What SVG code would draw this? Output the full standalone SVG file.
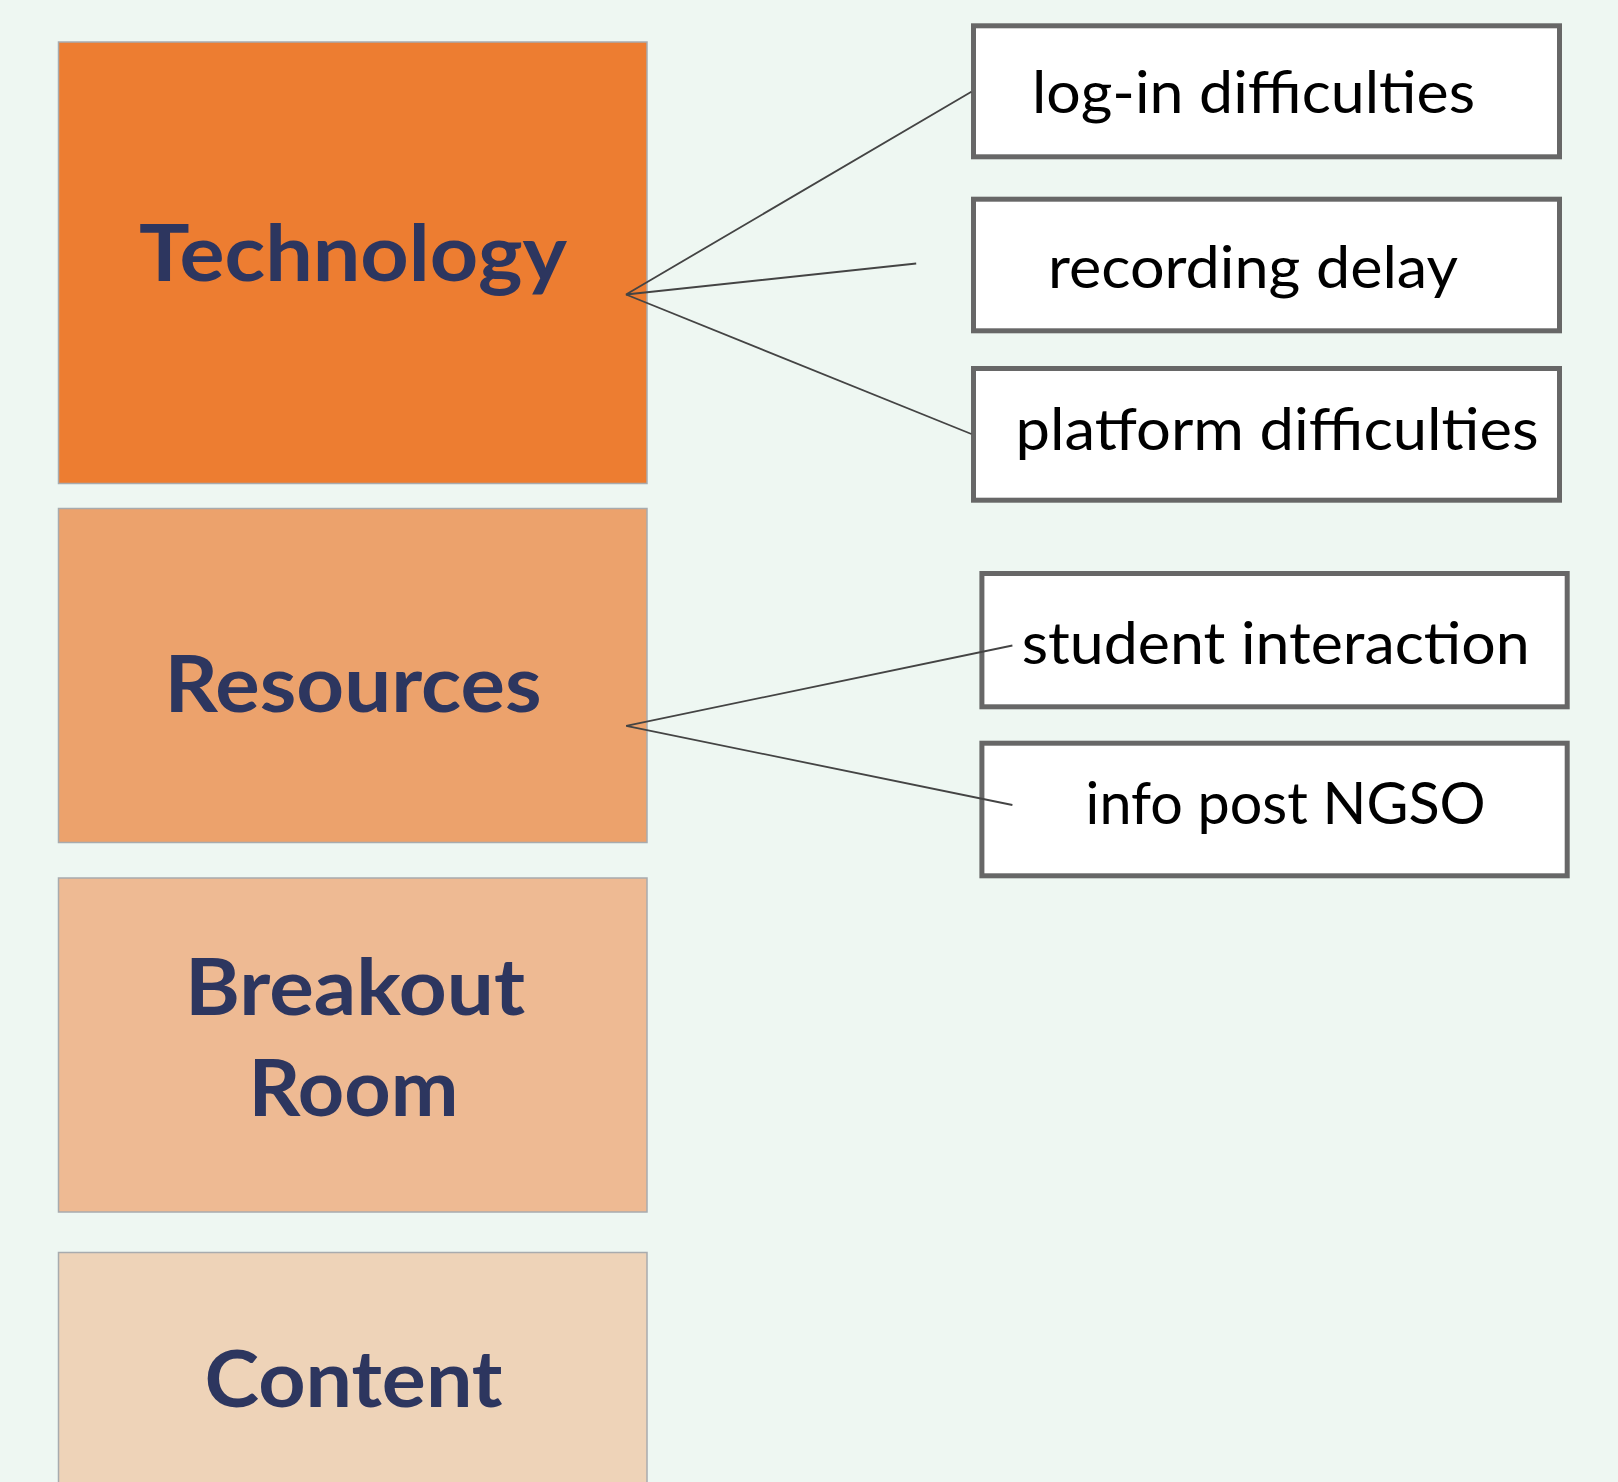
<svg xmlns="http://www.w3.org/2000/svg" width="1618" height="1482" viewBox="0 0 1618 1482">
<style>
.cat{stroke:#A8ABAE;stroke-width:1.5}
.lbl{font-family:Lato,"Open Sans","Liberation Sans",sans-serif;font-weight:700;font-size:78px;fill:#2D365F;text-anchor:middle}
.box{fill:#FFFFFF;stroke:#676767;stroke-width:5}
.txt{font-family:Lato,"Open Sans","Liberation Sans",sans-serif;font-size:58px;fill:#000000}
.conn{stroke:#444444;stroke-width:1.8;fill:none}
</style>
<rect width="1618" height="1482" fill="#EEF7F2"/>
<g id="technology">
<rect class="cat" x="58.5" y="42" width="588.5" height="441.5" fill="#ED7D31"/>
<text class="lbl" x="353" y="281" textLength="428" lengthAdjust="spacingAndGlyphs">Technology</text>
</g>
<g id="resources">
<rect class="cat" x="58.5" y="508.5" width="588.5" height="334" fill="#ECA26C"/>
<text class="lbl" x="353" y="711.5" textLength="377" lengthAdjust="spacingAndGlyphs">Resources</text>
</g>
<g id="breakout-room">
<rect class="cat" x="58.5" y="878" width="588.5" height="334" fill="#EEBA93"/>
<text class="lbl" x="355" y="1014.5" textLength="340" lengthAdjust="spacingAndGlyphs">Breakout</text>
<text class="lbl" x="353.5" y="1116" textLength="210" lengthAdjust="spacingAndGlyphs">Room</text>
</g>
<g id="content">
<rect class="cat" x="58.5" y="1252.5" width="588.5" height="260" fill="#EED3B8"/>
<text class="lbl" x="353.5" y="1406.5" textLength="298" lengthAdjust="spacingAndGlyphs">Content</text>
</g>
<g id="login-difficulties">
<rect class="box" x="973.5" y="25.8" width="586" height="131"/>
<text class="txt" x="1032" y="113.3" textLength="443" lengthAdjust="spacingAndGlyphs">log-in difficulties</text>
</g>
<g id="recording-delay">
<rect class="box" x="973.5" y="199.2" width="586" height="131.6"/>
<text class="txt" x="1048" y="288.3" textLength="410" lengthAdjust="spacingAndGlyphs">recording delay</text>
</g>
<g id="platform-difficulties">
<rect class="box" x="973.5" y="368.5" width="586" height="131.7"/>
<text class="txt" x="1015.6" y="450" textLength="523" lengthAdjust="spacingAndGlyphs">platform difficulties</text>
</g>
<g id="student-interaction">
<rect class="box" x="981.9" y="573.5" width="585.3" height="133.3"/>
<text class="txt" x="1021.7" y="664.3" textLength="508" lengthAdjust="spacingAndGlyphs">student interaction</text>
</g>
<g id="info-post-ngso">
<rect class="box" x="981.9" y="743.2" width="585.3" height="132.6"/>
<text class="txt" x="1085.6" y="824" textLength="400" lengthAdjust="spacingAndGlyphs">info post NGSO</text>
</g>
<g id="connectors">
<polyline class="conn" points="971.4,91.7 626,294.5 916.2,263.5"/>
<line class="conn" x1="626" y1="294.5" x2="971.4" y2="434"/>
<polyline class="conn" points="1012.4,645.5 626.2,725.8 1012.4,805"/>
</g>
</svg>
